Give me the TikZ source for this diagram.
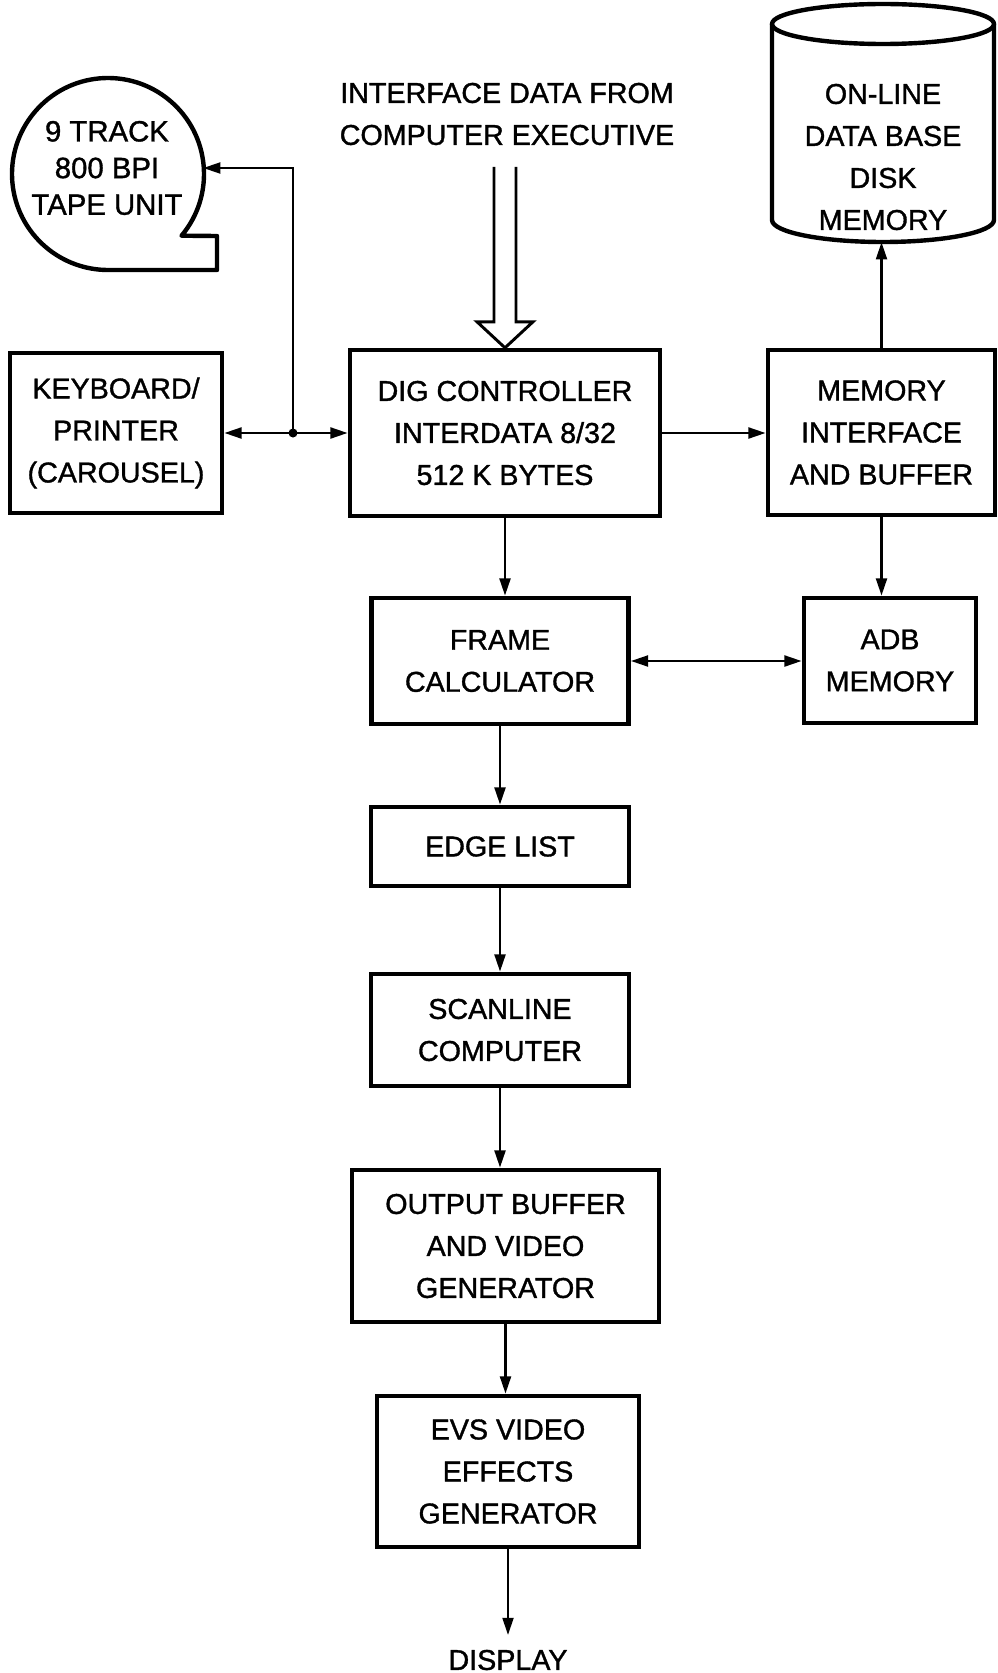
\documentclass[tikz,border=0pt]{standalone}
\usepackage{fontspec}
\setmainfont{Liberation Sans}[FakeBold=1.2]
\usetikzlibrary{arrows.meta,calc}

\begin{document}
\begin{tikzpicture}[
  x=0.75pt, y=-0.75pt,
  >={Triangle[length=13pt,width=8pt]},
  unitbox/.style={draw=black, line width=3.3pt, align=center, inner sep=0pt,
                  font=\fontsize{21.5}{31.5}\selectfont},
  lettering/.style={align=center, inner sep=0pt, outer sep=0pt,
                    font=\fontsize{21.5}{31.5}\selectfont},
  flow/.style={->, line width=2.2pt, black},
  hollow/.style={line width=2.2pt, line join=miter},
  outline/.style={line width=3.3pt, line join=round}
]
\useasboundingbox (0,0) rectangle (997,1673);

\node[lettering] (iface) at (507,114) {INTERFACE DATA FROM\\COMPUTER EXECUTIVE};
\node[lettering, circle, minimum size=144pt,
      font=\fontsize{22}{27.5}\selectfont] (tape) at (107,168)
  {9 TRACK\\800 BPI\\TAPE UNIT};
\node[lettering, minimum width=166.5pt, minimum height=127.5pt] (disk) at (883,157)
  {ON-LINE\\DATA BASE\\DISK\\MEMORY};

\node[unitbox, minimum width=159pt, minimum height=120pt] (kbd) at (116,433)
  {KEYBOARD/\\PRINTER\\(CAROUSEL)};
\node[unitbox, minimum width=232.5pt, minimum height=124.5pt] (dig) at (505,433)
  {DIG CONTROLLER\\INTERDATA 8/32\\512 K BYTES};
\node[unitbox, minimum width=170.25pt, minimum height=123.75pt] (mem) at (881.5,432.5)
  {MEMORY\\INTERFACE\\AND BUFFER};
\node[unitbox, minimum width=192.75pt, minimum height=94.5pt] (frame) at (500,661)
  {FRAME\\CALCULATOR};
\node[unitbox, minimum width=129pt, minimum height=93.75pt] (adb) at (890,660.5)
  {ADB\\MEMORY};
\node[unitbox, minimum width=193.5pt, minimum height=59.25pt] (edge) at (500,846.5)
  {EDGE LIST};
\node[unitbox, minimum width=193.5pt, minimum height=84pt] (scan) at (500,1030)
  {SCANLINE\\COMPUTER};
\node[unitbox, minimum width=230.25pt, minimum height=114pt] (outb) at (505.5,1246)
  {OUTPUT BUFFER\\AND VIDEO\\GENERATOR};
\node[unitbox, minimum width=196.5pt, minimum height=113.25pt] (evs) at (508,1471.5)
  {EVS VIDEO\\EFFECTS\\GENERATOR};
\node[lettering, outer ysep=11pt] (display) at (508,1660) {DISPLAY};

\draw[outline] ($(tape.center)+(1,6)$) ++(40:96) arc[start angle=40, end angle=-270, radius=96]
  -- ++(109,0) -- ++(0,-34) -- cycle;
\draw[outline] ($(disk.north)+(0,-48)$) ellipse [x radius=111, y radius=20];
\draw[outline] ($(disk.north west)+(0,-48)$) -- ($(disk.south west)+(0,-22)$)
  arc[start angle=180, end angle=0, x radius=111, y radius=22]
  -- ($(disk.north east)+(0,-48)$);

\draw[hollow] (dig.north) ++(-11,-181) -- ++(0,155) -- ++(-17,0) -- (dig.north)
  -- ++(28,-26) -- ++(-17,0) -- ++(0,-155);

\coordinate (jct) at (293,433);
\draw[flow, <->] (kbd) -- (dig);
\draw[flow] (jct) |- (tape);
\fill (jct) circle (4.5);
\draw[flow] (dig.east) -- (dig.east -| mem.west);
\draw[flow] (mem.north) -- (mem.north |- disk.south);
\draw[flow] (mem.south) -- (mem.south |- adb.north);
\draw[flow] (dig.south) -- (dig.south |- frame.north);
\draw[flow, <->] (frame.east) -- (frame.east -| adb.west);
\draw[flow] (frame.south) -- (frame.south |- edge.north);
\draw[flow] (edge.south) -- (edge.south |- scan.north);
\draw[flow] (scan.south) -- (scan.south |- outb.north);
\draw[flow] (outb.south) -- (outb.south |- evs.north);
\draw[flow] (evs.south) -- (evs.south |- display.north);
\end{tikzpicture}
\end{document}
